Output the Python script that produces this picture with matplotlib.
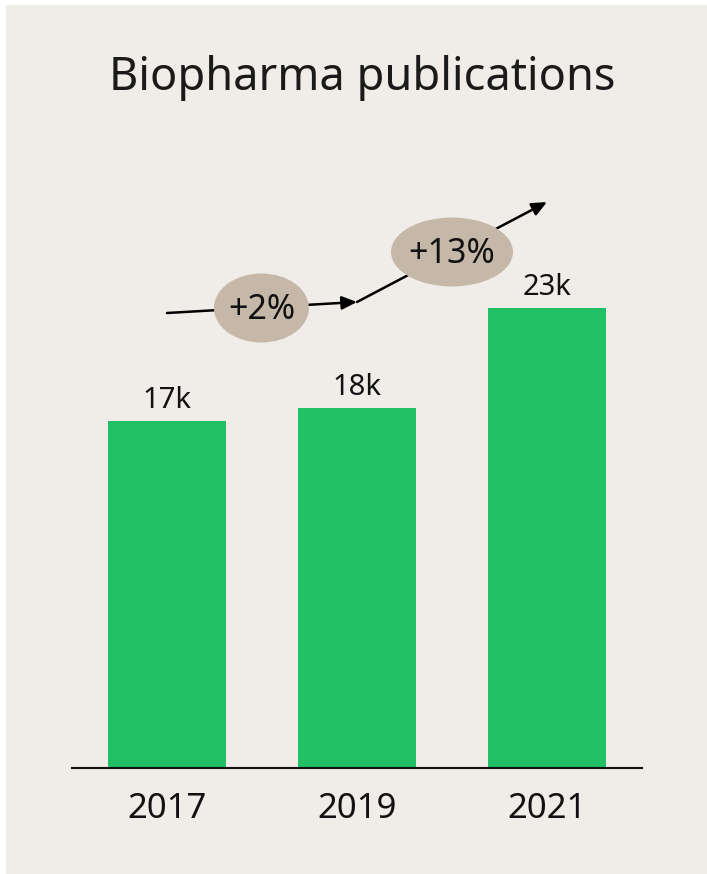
import numpy as np
import matplotlib.pyplot as plt
from matplotlib.patches import Ellipse, Rectangle

years = ['2017', '2019', '2021']
pubs = [17.35, 18.0, 23.0]          # thousands
bar_labels = ['17k', '18k', '23k']
growth = ['+2%', '+13%']

BG = '#f0ede8'
GREEN = '#21c065'
BUBBLE = '#c6b8a8'
FONT = ['Noto Sans', 'DejaVu Sans']

plt.rcParams['font.family'] = FONT

fig = plt.figure(figsize=(7.07, 8.74), dpi=100, facecolor='white')
fig.patches.append(Rectangle((6 / 707, 0), 1, (874 - 5) / 874, transform=fig.transFigure,
                             facecolor=BG, edgecolor='none', zorder=-10))

ax = fig.add_axes([72 / 707, 106 / 874, 570 / 707, 600 / 874])
ax.set_facecolor('none')

x = np.arange(len(years))
ax.bar(x, pubs, width=0.62, color=GREEN, zorder=2)

for xi, v, lab in zip(x, pubs, bar_labels):
    ax.annotate(lab, (xi, v), xytext=(0, 9.4), textcoords='offset points',
                ha='center', va='baseline', fontsize=21, color='#111111')

# year labels under the axis
for xi, yr in zip(x, years):
    ax.text(xi, -0.0833, yr, transform=ax.get_xaxis_transform(),
            ha='center', va='baseline', fontsize=25, color='#111111')

ax.set_xlim(-0.5, 2.5)
ax.set_ylim(0, 30)
ax.set_xticks([])
ax.set_yticks([])
for s in ['top', 'right', 'left']:
    ax.spines[s].set_visible(False)
ax.spines['bottom'].set_linewidth(1.5)
ax.spines['bottom'].set_color('#111111')

# growth arrows with bubbles
arrow_kw = dict(arrowstyle='-|>,head_length=0.9,head_width=0.4', color='black', lw=1.8,
                shrinkA=0, shrinkB=0)
ax.annotate('', xy=(1.0, 23.3), xytext=(0.0, 22.75), arrowprops=arrow_kw, zorder=3)
ax.annotate('', xy=(2.0, 28.3), xytext=(1.0, 23.3), arrowprops=arrow_kw, zorder=3)

bubbles = [((0.497, 23.0), 0.50), ((1.5, 25.8), 0.642)]
for (c, w), txt in zip(bubbles, growth):
    ax.add_patch(Ellipse(c, w, 3.45, facecolor=BUBBLE, edgecolor='none', zorder=4))
    ax.text(c[0], c[1] - 0.1, txt, ha='center', va='center', fontsize=24.5, color='#111111', zorder=5)

fig.text(362 / 707, (874 - 90) / 874, 'Biopharma publications', ha='center', va='baseline',
         fontsize=32.5, color='#1a1a1a')

fig.savefig('out.png', dpi=100, facecolor=fig.get_facecolor())
